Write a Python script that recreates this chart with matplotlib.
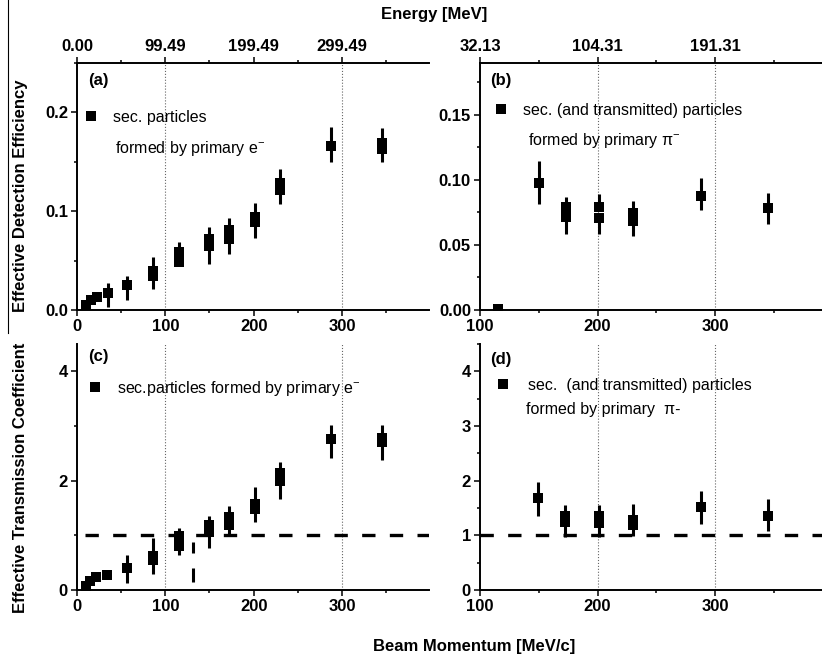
"""
Four-panel chart: effective detection efficiency and transmission coefficient
versus beam momentum, for secondary particles from primary e- and pi- beams.
"""

import matplotlib

matplotlib.use("Agg")

import matplotlib.pyplot as plt
from matplotlib.lines import Line2D
from matplotlib.ticker import FormatStrFormatter, MultipleLocator

plt.rcParams["font.family"] = ["Liberation Sans", "DejaVu Sans"]
plt.rcParams["font.weight"] = "bold"
plt.rcParams["mathtext.fontset"] = "custom"
plt.rcParams["mathtext.rm"] = "Liberation Sans:weight=normal"
plt.rcParams["mathtext.it"] = "Liberation Sans:style=italic:weight=normal"
plt.rcParams["mathtext.bf"] = "Liberation Sans:weight=bold"

# ---- data (momentum in MeV/c) ----
# (a) detection efficiency, primary e-
x_a = [10, 16, 23, 35, 57, 86, 86, 115, 115, 149, 149, 172, 172, 201, 201, 230, 230, 288, 345, 345]
y_a = [0.005, 0.010, 0.013, 0.017, 0.025, 0.034, 0.039, 0.049, 0.059, 0.065, 0.072,
       0.072, 0.081, 0.089, 0.094, 0.121, 0.129, 0.166, 0.163, 0.169]
lo_a = [0, 0, 0, 0.0136, 0.015, 0.013, 0, 0.004, 0, 0.018, 0, 0.015, 0, 0.016, 0,
        0.014, 0, 0.0165, 0.0135, 0]
hi_a = [0, 0, 0, 0.0107, 0.009, 0, 0.0145, 0, 0.010, 0, 0.0116, 0, 0.012, 0, 0.014,
        0, 0.014, 0.019, 0, 0.0155]

# (b) detection efficiency, primary pi-
x_b = [115, 150, 173, 173, 201, 201, 230, 230, 288, 345]
y_b = [0.001, 0.0977, 0.0716, 0.0793, 0.071, 0.079, 0.0683, 0.0745, 0.0875, 0.0787]
lo_b = [0, 0.0165, 0.0129, 0, 0.0123, 0, 0.0115, 0, 0.0108, 0.0127]
hi_b = [0, 0.017, 0, 0.0073, 0, 0.0103, 0, 0.0094, 0.0143, 0.0113]

# (c) transmission coefficient, primary e-
x_c = [10, 15, 22, 34, 57, 86, 86, 115, 115, 149, 149, 172, 172, 201, 201, 230, 230, 288, 345, 345]
y_c = [0.08, 0.17, 0.23, 0.27, 0.41, 0.55, 0.63, 0.80, 0.98, 1.07, 1.19, 1.19, 1.33,
       1.48, 1.57, 2.00, 2.14, 2.76, 2.71, 2.78]
lo_c = [0, 0, 0, 0, 0.28, 0.26, 0, 0.16, 0, 0.31, 0, 0.19, 0, 0.24, 0, 0.34, 0, 0.35, 0.34, 0]
hi_c = [0, 0, 0, 0, 0.23, 0, 0.32, 0, 0.15, 0, 0.17, 0, 0.21, 0, 0.32, 0, 0.21, 0.25, 0, 0.24]
# broken error bar near 131 MeV/c in (c)
gap_x = [131, 131]
gap_lo = [0.67, 0.15]
gap_hi = [0.88, 0.40]

# (d) transmission coefficient, primary pi-
x_d = [149, 172, 172, 201, 201, 230, 230, 288, 345]
y_d = [1.69, 1.24, 1.36, 1.22, 1.36, 1.18, 1.28, 1.51, 1.36]
lo_d = [0.33, 0.27, 0, 0.25, 0, 0.19, 0, 0.30, 0.28]
hi_d = [0.29, 0, 0.20, 0, 0.20, 0, 0.30, 0.30, 0.31]

unity = 1.0

# top axis: kinetic energy at the momentum ticks
e_ticks_pos = [0, 100, 200, 300]
e_ticks_lab = ["0.00", "99.49", "199.49", "299.49"]
pi_ticks_pos = [100, 200, 300]
pi_ticks_lab = ["32.13", "104.31", "191.31"]

W, H = 822, 659
fig = plt.figure(figsize=(W / 100, H / 100), dpi=100)


def add_axes_px(left, top, right, bottom):
    return fig.add_axes([left / W, 1 - bottom / H, (right - left) / W, (bottom - top) / H])


def style(ax, xlim, ylim, ymajor, yminor, yfmt, grid_x):
    ax.set_xlim(*xlim)
    ax.set_ylim(*ylim)
    ax.xaxis.set_major_locator(MultipleLocator(100))
    ax.xaxis.set_minor_locator(MultipleLocator(50))
    ax.yaxis.set_major_locator(MultipleLocator(ymajor))
    ax.yaxis.set_minor_locator(MultipleLocator(yminor))
    ax.yaxis.set_major_formatter(FormatStrFormatter(yfmt))
    ax.tick_params(which="both", direction="out", width=1.1, labelsize=12, pad=2.5)
    ax.tick_params(which="major", length=4)
    ax.tick_params(which="minor", length=2.5)
    ax.spines["right"].set_visible(False)
    ax.spines["top"].set_visible(False)
    for s in ("left", "bottom"):
        ax.spines[s].set_linewidth(1.4)
    for gx in grid_x:
        ax.axvline(gx, color="0.4", ls=":", lw=0.8, zorder=0)


def top_axis(ax, pos, labels):
    sec = ax.secondary_xaxis("top")
    sec.set_xticks(pos, labels=labels)
    sec.xaxis.set_minor_locator(MultipleLocator(50))
    sec.tick_params(which="both", direction="out", width=1.1, labelsize=12, pad=2.5)
    sec.tick_params(which="major", length=4)
    sec.tick_params(which="minor", length=2.5)
    sec.spines["top"].set_linewidth(1.4)


def points(ax, x, y, lo, hi):
    ax.errorbar(x, y, yerr=[lo, hi], fmt="s", color="k", ms=7, mew=0,
                elinewidth=2.2, capsize=0, zorder=3)


def legend(ax, label, x0, y0, pad):
    handle = Line2D([], [], marker="s", ls="none", color="k", ms=7, mew=0)
    ax.legend([handle], [label], loc="center left", bbox_to_anchor=(x0, y0),
              frameon=False, borderpad=0, borderaxespad=0, handlelength=0.8,
              handletextpad=pad, prop={"size": 11.5, "weight": "normal"})


def note(ax, x, y, s):
    ax.text(x, y, s, transform=ax.transAxes, fontsize=11.5, fontweight="normal",
            va="center", ha="left")


def tag(ax, x, y, s):
    ax.text(x, y, s, transform=ax.transAxes, fontsize=12, fontweight="bold",
            va="center", ha="left")


dash = (0, (4, 4.3))

# (a)
ax_a = add_axes_px(77, 63, 429, 310)
style(ax_a, (0, 398.5), (0, 0.25), 0.1, 0.05, "%.1f", [100, 300])
top_axis(ax_a, e_ticks_pos, e_ticks_lab)
points(ax_a, x_a, y_a, lo_a, hi_a)
legend(ax_a, "sec. particles", 0.0207, 0.780, 1.0)
note(ax_a, 0.108, 0.652, "formed by primary e$^{-}$")
tag(ax_a, 0.032, 0.928, "(a)")

# (b)
ax_b = add_axes_px(480, 63, 822, 310)
style(ax_b, (100, 391), (0, 0.19), 0.05, 0.025, "%.2f", [200, 300])
top_axis(ax_b, pi_ticks_pos, pi_ticks_lab)
points(ax_b, x_b, y_b, lo_b, hi_b)
legend(ax_b, "sec. (and transmitted) particles", 0.0427, 0.809, 0.98)
note(ax_b, 0.140, 0.687, "formed by primary \u03c0$^{-}$")
tag(ax_b, 0.031, 0.931, "(b)")

# (c)
ax_c = add_axes_px(77, 344, 429, 590)
style(ax_c, (0, 398.5), (0, 4.5), 2, 1, "%d", [100, 300])
ax_c.hlines(unity, 9, 398.5, colors="k", lw=2.4, linestyles=[dash], zorder=2)
ax_c.vlines(gap_x, gap_lo, gap_hi, colors="k", lw=2.2, zorder=3)
points(ax_c, x_c, y_c, lo_c, hi_c)
legend(ax_c, "sec.particles formed by primary e$^{-}$", 0.033, 0.821, 0.98)
tag(ax_c, 0.032, 0.948, "(c)")

# (d)
ax_d = add_axes_px(480, 344, 822, 590)
style(ax_d, (100, 391), (0, 4.5), 1, 0.5, "%d", [200, 300])
ax_d.hlines(unity, 100, 391, colors="k", lw=2.4, linestyles=[dash], zorder=2)
points(ax_d, x_d, y_d, lo_d, hi_d)
legend(ax_d, "sec.  (and transmitted) particles", 0.0477, 0.833, 1.18)
note(ax_d, 0.1345, 0.732, "formed by primary  \u03c0-")
tag(ax_d, 0.031, 0.935, "(d)")

# shared axis titles
fig.text(434 / W, 1 - 15 / H, "Energy [MeV]", ha="center", va="center", fontsize=12)
fig.text(474 / W, 1 - 647 / H, "Beam Momentum [MeV/c]", ha="center", va="center", fontsize=12)
fig.text(21 / W, 1 - 196 / H, "Effective Detection Efficiency", rotation=90,
         ha="center", va="center", fontsize=12)
fig.text(21 / W, 1 - 478 / H, "Effective Transmission Coefficient", rotation=90,
         ha="center", va="center", fontsize=12)

# page-edge rule on the left of the top row
fig.add_artist(Line2D([7.5 / W, 7.5 / W], [1, 1 - 333 / H], color="k", lw=0.8))

fig.savefig("out.png", dpi=100)
